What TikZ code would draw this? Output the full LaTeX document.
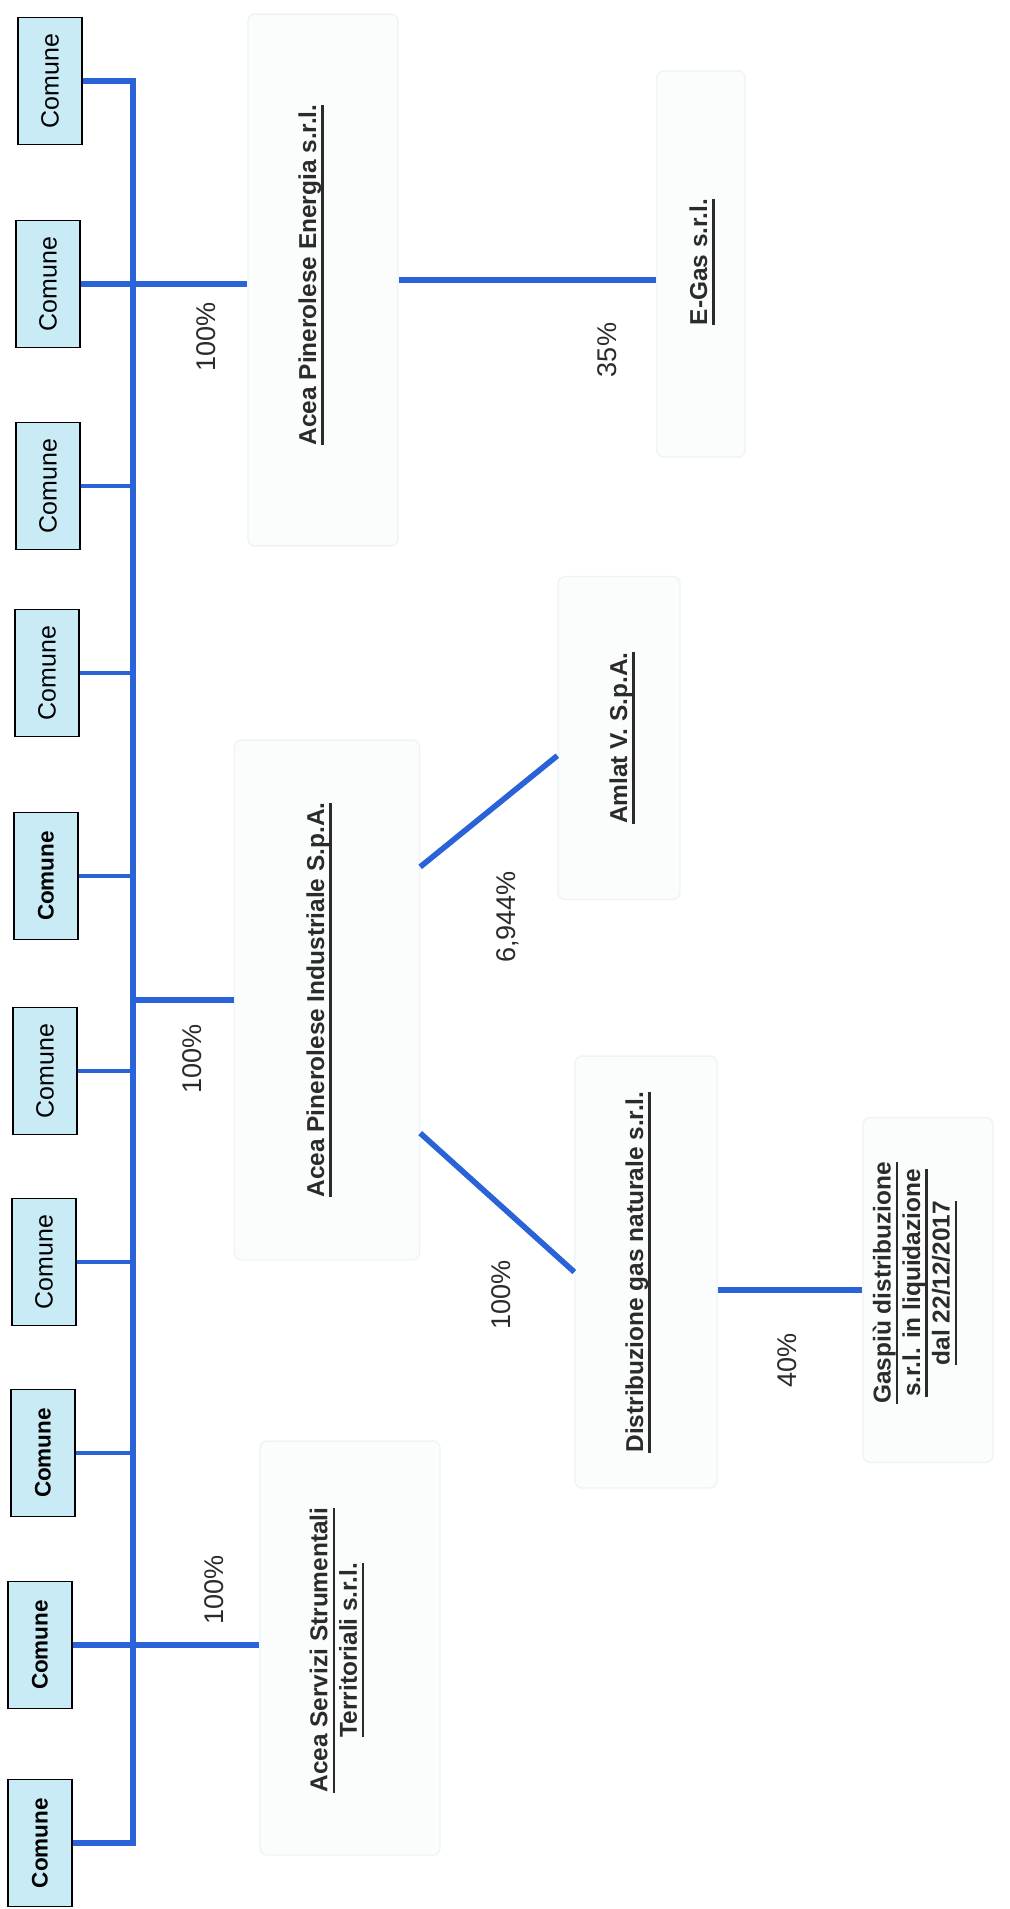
\documentclass[tikz,border=0pt]{standalone}
\usepackage{fontspec}
\setmainfont{Liberation Sans}
\definecolor{linkblue}{HTML}{2A63D8}
\definecolor{comfill}{HTML}{C9EBF6}
\definecolor{faint}{HTML}{FBFDFD}
\definecolor{faintline}{HTML}{EDF4F6}
\definecolor{ink}{HTML}{2B2B2B}
\newcommand{\ulname}[1]{\setbox0=\hbox{#1}\rlap{\vrule height -3pt depth 4.3pt width \wd0}\box0}
\tikzset{
  comune/.style={draw, line width=0.9pt, fill=comfill, rotate=90, minimum width=2.54cm, minimum height=1.28cm, inner sep=2pt, font=\fontsize{14.2}{16}\selectfont},
  comuneb/.style={comune, font=\fontsize{12.8}{15}\selectfont\bfseries},
  cobox/.style={draw=faintline, fill=faint, rounded corners=4pt, line width=0.8pt, inner sep=0pt},
  coname/.style={rotate=90, text=ink, align=center, font=\fontsize{13.9}{16.8}\selectfont\bfseries},
  pct/.style={rotate=90, text=ink, font=\fontsize{15.4}{18}\selectfont},
  link/.style={linkblue, line width=3.2pt},
  stub/.style={linkblue, line width=2.4pt}
}
\begin{document}
\begin{tikzpicture}[x=0.02cm,y=-0.02cm]
\fill[white] (0,0) rectangle (1009,1909);
\useasboundingbox (0,0) rectangle (1009,1909);

\node[cobox, minimum width=3cm, minimum height=10.64cm] (ape) at (323,280) {};
\node[cobox, minimum width=1.76cm, minimum height=7.72cm] (egas) at (701,264) {};
\node[cobox, minimum width=3.7cm, minimum height=10.4cm] (api) at (327,1000) {};
\node[cobox, minimum width=2.44cm, minimum height=6.46cm] (aml) at (619,738) {};
\node[cobox, minimum width=2.84cm, minimum height=8.64cm] (dgn) at (646,1272) {};
\node[cobox, minimum width=2.6cm, minimum height=6.9cm] (gas) at (928,1290) {};
\node[cobox, minimum width=3.6cm, minimum height=8.28cm] (asst) at (350,1648) {};

\node[comune] (c1) at (50,81) {Comune};
\node[comune] (c2) at (48,284) {Comune};
\node[comune] (c3) at (48,486) {Comune};
\node[comune] (c4) at (47,673) {Comune};
\node[comuneb] (c5) at (46,876) {Comune};
\node[comune] (c6) at (45,1071) {Comune};
\node[comune] (c7) at (44,1262) {Comune};
\node[comuneb] (c8) at (43,1453) {Comune};
\node[comuneb] (c9) at (40,1645) {Comune};
\node[comuneb] (c10) at (40,1843) {Comune};

\node[coname] (apet) at (311,275) {\ulname{Acea Pinerolese Energia s.r.l.}};
\node[coname] (egast) at (702,262) {\ulname{E-Gas s.r.l.}};
\node[coname] (apit) at (319,1000) {\ulname{Acea Pinerolese Industriale S.p.A.}};
\node[coname] (amlt) at (622,738) {\ulname{Amlat V. S.p.A.}};
\node[coname] (dgnt) at (638,1272) {\ulname{Distribuzione gas naturale s.r.l.}};
\node[coname] (gast) at (915,1283) {\ulname{Gaspiù distribuzione}\\\ulname{s.r.l. in liquidazione}\\\ulname{dal 22/12/2017}};
\node[coname] (asstt) at (337,1650) {\ulname{Acea Servizi Strumentali}\\\ulname{Territoriali s.r.l.}};

\node[pct] (q1) at (206,337) {100\%};
\node[pct] (q2) at (607,350) {35\%};
\node[pct] (q3) at (192,1059) {100\%};
\node[pct] (q4) at (508,917) {6,944\%};
\node[pct] (q5) at (501,1295) {100\%};
\node[pct] (q6) at (787,1360) {40\%};
\node[pct] (q7) at (214,1590) {100\%};

\coordinate (bus) at (133,960);
\draw[link] (c1.south) -| (bus) |- (c10.south);
\draw[link] (c2.south) -- (c2.south -| ape.west);
\draw[link] (c9.south) -- (c9.south -| asst.west);
\draw[stub] (c3.south) -- (c3.south -| bus);
\draw[stub] (c4.south) -- (c4.south -| bus);
\draw[stub] (c5.south) -- (c5.south -| bus);
\draw[stub] (c6.south) -- (c6.south -| bus);
\draw[stub] (c7.south) -- (c7.south -| bus);
\draw[stub] (c8.south) -- (c8.south -| bus);
\draw[link] (bus |- api.west) -- (api.west);
\draw[link] (ape.east) -- (ape.east -| egas.west);
\draw[link] (api.55) -- (aml.196);
\draw[link] (api.-55) -- (dgn.west);
\draw[link] (dgn.east |- gas.west) -- (gas.west);
\end{tikzpicture}
\end{document}
